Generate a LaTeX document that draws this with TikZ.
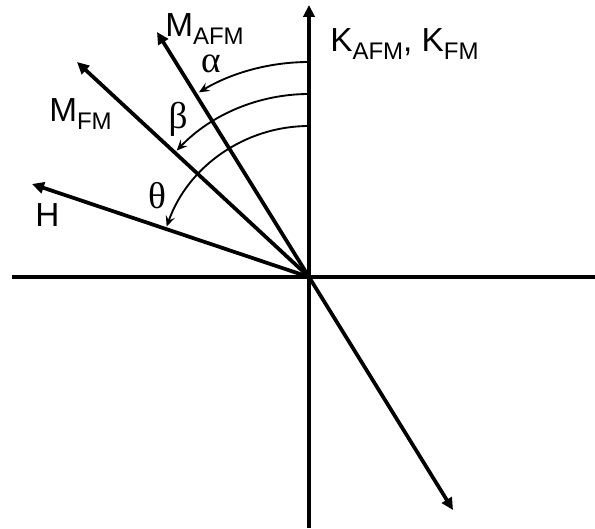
\documentclass[tikz,border=0pt]{standalone}
\usepackage{fontspec}
\setmainfont{Liberation Sans}
\newfontfamily\gk{Liberation Serif}
\usetikzlibrary{arrows.meta}
\newcommand{\mysub}[1]{\raisebox{-5.5pt}{\fontsize{18}{18}\selectfont #1}}
\begin{document}
\begin{tikzpicture}[x=0.75pt,y=0.75pt,
  axis/.style={line width=2.8pt},
  vec/.style={line width=2.8pt,-{Triangle[length=9pt,width=8.5pt]}},
  angarc/.style={line width=1.4pt,-{Stealth[length=8pt,width=7pt,inset=3pt]}},
  lab/.style={font=\fontsize{25}{25}\selectfont,inner sep=0pt,anchor=base west},
  glab/.style={font=\gk\fontsize{28}{28}\selectfont,inner sep=0pt}]
\useasboundingbox (0,0) rectangle (595,528);
\coordinate (O) at (309,251);
\coordinate (top) at (309,523);
\coordinate (bot) at (309,0);
\coordinate (left) at (12,251);
\coordinate (right) at (595,251);
\coordinate (mafm) at (157,496);
\coordinate (mfm) at (77,466);
\coordinate (h) at (32,344);
\coordinate (low) at (453,18);
\draw[axis] (left) -- (right);
\draw[axis] (bot) -- (O);
\draw[vec] (O) -- (top);
\draw[vec] (O) -- (mafm);
\draw[vec] (O) -- (mfm);
\draw[vec] (O) -- (h);
\draw[vec] (O) -- (low);
\draw[angarc] ([shift={(90:215)}]O) arc[start angle=90,end angle=120.8,radius=215];
\draw[angarc] ([shift={(90:183)}]O) arc[start angle=90,end angle=136.3,radius=183];
\draw[angarc] ([shift={(90:151)}]O) arc[start angle=90,end angle=160.5,radius=151];
\node[lab] (lmafm) at (165,491) {M\mysub{AFM}};
\node[lab] (lk) at (330,476) {K\mysub{AFM}, K\mysub{FM}};
\node[lab] (lmfm) at (49,406) {M\mysub{FM}};
\node[lab] (lh) at (35,301) {H};
\node[glab] (la) at (211,464) {α};
\node[glab] (lb) at (178,409) {β};
\node[glab] (lt) at (157,332) {θ};
\end{tikzpicture}
\end{document}
